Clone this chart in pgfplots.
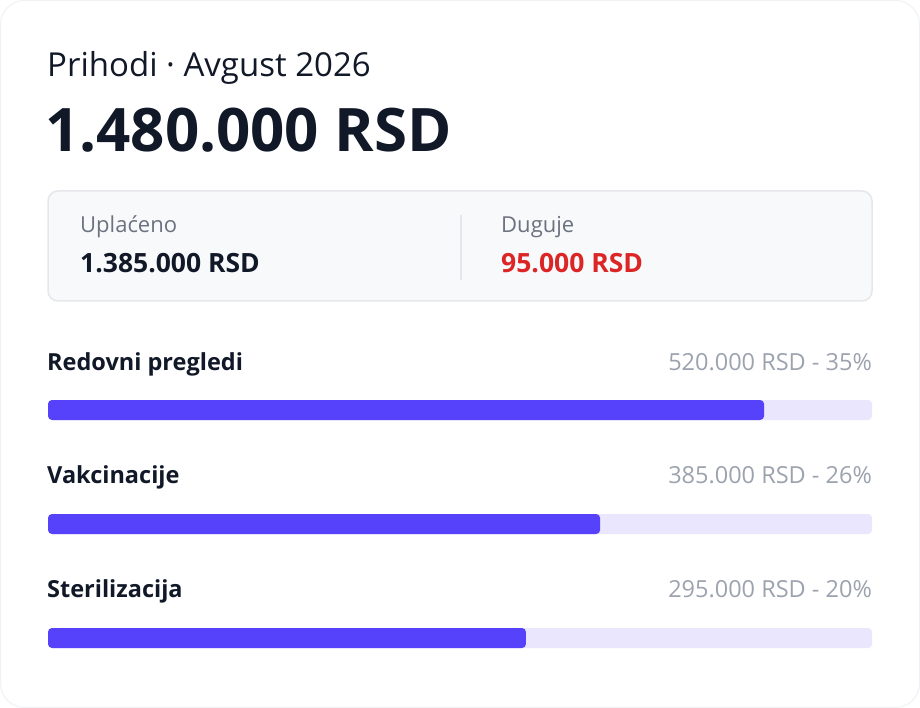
\documentclass[border=0pt]{standalone}
\usepackage{pgfplots}
\pgfplotsset{compat=1.18}
\usepackage{fontspec}
\setmainfont{Open Sans}
\definecolor{ink}{HTML}{111827}
\definecolor{muted}{HTML}{6B7280}
\definecolor{faint}{HTML}{9CA3AF}
\definecolor{due}{HTML}{DC2626}
\definecolor{boxfill}{HTML}{F8F9FB}
\definecolor{boxline}{HTML}{E5E7EB}
\definecolor{barfill}{HTML}{5542FA}
\definecolor{track}{HTML}{EAE6FE}

% fractions of the track that each bar fills
\pgfplotstableread{
y frac
2 0.869
1 0.670
0 0.580
}\shares

\begin{document}
\begin{tikzpicture}[x=1pt,y=1pt]
\useasboundingbox (0,0) rectangle (920,-708);
\draw[rounded corners=24pt, draw=boxline!60, line width=1pt, fill=white] (0.5,-0.5) rectangle (919.5,-707.5);

% header
\node[anchor=base west, inner sep=0pt, text=ink, font=\fontsize{33}{38}\selectfont] at (47,-77) {Prihodi · Avgust 2026};
\node[anchor=base west, inner sep=0pt, text=ink, font=\fontsize{60}{68}\selectfont\bfseries] at (45,-152) {1.480.000 RSD};

% summary box
\draw[rounded corners=10pt, fill=boxfill, draw=boxline, line width=1.5pt] (48,-191) rectangle (872,-301);
\draw[boxline, line width=1.5pt] (461,-215) -- (461,-280);
\node[anchor=base west, inner sep=0pt, text=muted, font=\fontsize{22}{26}\selectfont] at (80,-233) {Uplaćeno};
\node[anchor=base west, inner sep=0pt, text=ink, font=\fontsize{26.5}{30}\selectfont\bfseries] at (80,-273) {1.385.000 RSD};
\node[anchor=base west, inner sep=0pt, text=muted, font=\fontsize{22}{26}\selectfont] at (501,-233) {Duguje};
\node[anchor=base west, inner sep=0pt, text=due, font=\fontsize{26.5}{30}\selectfont\bfseries] at (501,-273) {95.000 RSD};

% category labels
\foreach \name/\val/\yy in {Redovni pregledi/520.000 RSD - 35\%/-370,
                            Vakcinacije/385.000 RSD - 26\%/-483,
                            Sterilizacija/295.000 RSD - 20\%/-597}{
  \node[anchor=base west, inner sep=0pt, text=ink, font=\fontsize{23.5}{28}\selectfont\bfseries] at (47,\yy) {\name};
  \node[anchor=base east, inner sep=0pt, text=faint, font=\fontsize{23.5}{28}\selectfont] at (872,\yy) {\val};
}

\begin{axis}[
  at={(48pt,-648pt)}, anchor=south west,
  scale only axis, width=824pt, height=248pt,
  hide axis, clip=false,
  xmin=0, xmax=1,
  ymin=-0.0877, ymax=2.0877,
  xbar, bar width=20pt, bar shift=0pt,
]
\addplot[draw=none, fill=track, rounded corners=4pt] coordinates {(1,2) (1,1) (1,0)};
\addplot[draw=none, fill=barfill, rounded corners=4pt] table[x=frac, y=y] {\shares};
\end{axis}
\end{tikzpicture}
\end{document}
